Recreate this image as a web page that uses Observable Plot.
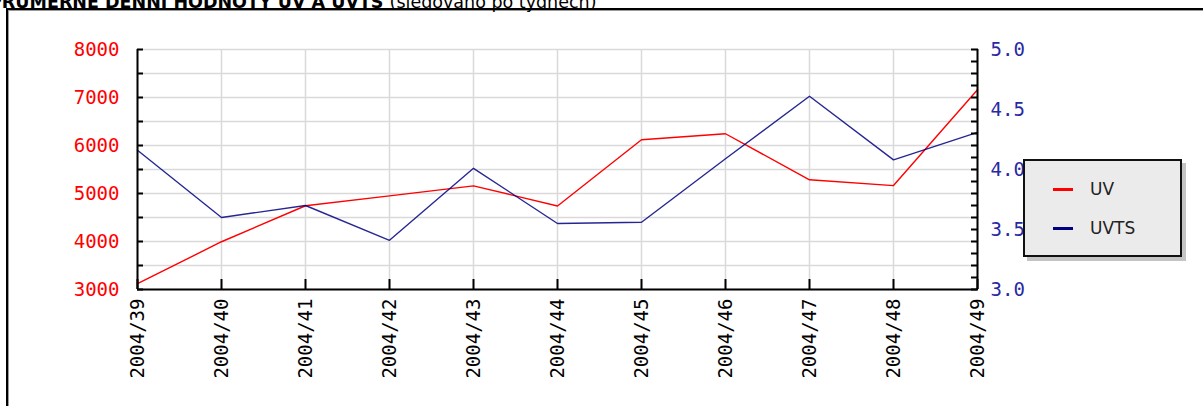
<!DOCTYPE html>
<html><head><meta charset="utf-8">
<script src="https://cdn.jsdelivr.net/npm/d3@7"></script>
<script src="https://cdn.jsdelivr.net/npm/@observablehq/plot@0.6"></script>
<style>
body{margin:0;background:#fff;}
#wrap{position:relative;width:1203px;height:406px;overflow:hidden;background:#fff;}
#frame{position:absolute;left:6px;top:8px;width:1300px;height:500px;border-left:2px solid #000;border-top:2px solid #000;box-shadow:inset 1px 1px 0 #9a9a9a;}
#title{position:absolute;left:-11px;top:-6px;font:bold 17.5px "DejaVu Sans";line-height:17px;white-space:nowrap;color:#000;}
#title span{font-weight:normal;}
#chart{position:absolute;left:0;top:0;}
#legend{position:absolute;left:1023px;top:159px;width:155px;height:94px;background:#ebebeb;border:2px solid #111;box-shadow:4px 4px 0 #c4c4c4;}
.li{position:absolute;left:28px;height:20px;display:flex;align-items:center;font:17px "DejaVu Sans";color:#222;}
.li i{display:inline-block;width:20px;height:3px;margin-right:17px;}
</style></head>
<body><div id="wrap">
<div id="frame"></div>
<div id="title">PRŮMĚRNÉ DENNÍ HODNOTY UV A UVTS <span>(sledováno po týdnech)</span></div>
<div id="chart"></div>
<div id="legend"></div>
</div>
<script>
const weeks = ["2004/39","2004/40","2004/41","2004/42","2004/43","2004/44","2004/45","2004/46","2004/47","2004/48","2004/49"];
const uv = [3120,3995,4745,4950,5160,4740,6120,6245,5285,5165,7160];
const uvts = [4.16,3.60,3.70,3.41,4.01,3.55,3.56,4.09,4.61,4.08,4.31];
const leftTickLabels = [3000,4000,5000,6000,7000,8000];
const leftMinorTicks = [3000,3500,4000,4500,5000,5500,6000,6500,7000,7500,8000];
const rightTickLabels = [3.0,3.5,4.0,4.5,5.0];
const rightMinorTicks = [3.0,3.1,3.2,3.3,3.4,3.5,3.6,3.7,3.8,3.9,4.0,4.1,4.2,4.3,4.4,4.5,4.6,4.7,4.8,4.9,5.0];
const seriesNames = ["UV","UVTS"];
const seriesColors = ["#ff0000","#000080"];

const leftDomain = [3000, 8000];
const rightDomain = [3.0, 5.0];
const toLeft = v => leftDomain[0] + (v - rightDomain[0]) * (leftDomain[1]-leftDomain[0])/(rightDomain[1]-rightDomain[0]);
const fromLeft = v => rightDomain[0] + (v - leftDomain[0]) * (rightDomain[1]-rightDomain[0])/(leftDomain[1]-leftDomain[0]);

const uvData = weeks.map((w,i)=>({week:w, value:uv[i]}));
const uvtsData = weeks.map((w,i)=>({week:w, value:toLeft(uvts[i])}));
const mono = "DejaVu Sans Mono";

const chart = Plot.plot({
  width:1203, height:406,
  marginLeft:137, marginRight:226, marginTop:49, marginBottom:117,
  style:{background:"transparent", overflow:"visible"},
  x:{type:"point", domain:weeks, padding:0},
  y:{domain:leftDomain},
  marks:[
    Plot.gridY(leftMinorTicks, {stroke:"#d9d9d9", strokeOpacity:1, strokeWidth:1.5}),
    Plot.gridX(weeks, {stroke:"#d9d9d9", strokeOpacity:1, strokeWidth:1.5}),
    Plot.line(uvData, {x:"week", y:"value", stroke:seriesColors[0], strokeWidth:1.4}),
    Plot.line(uvtsData, {x:"week", y:"value", stroke:seriesColors[1], strokeWidth:1.4, strokeOpacity:0.85}),
    Plot.ruleY([leftDomain[0]], {stroke:"#000", strokeWidth:2}),
    Plot.ruleX([weeks[0]], {stroke:"#000", strokeWidth:2}),
    Plot.ruleX([weeks[weeks.length-1]], {stroke:"#000", strokeWidth:2}),
    Plot.axisY(leftMinorTicks, {anchor:"left", tickSize:-6, strokeWidth:2, tickFormat:()=>"", label:null}),
    Plot.axisY(leftTickLabels, {anchor:"left", tickSize:0, tickPadding:18, label:null, color:"#ff0000", fontSize:19, fontFamily:mono, tickFormat:d=>String(d)}),
    Plot.axisY(rightMinorTicks.map(toLeft), {anchor:"right", tickSize:-7, strokeWidth:2, tickFormat:()=>"", label:null}),
    Plot.axisY(rightTickLabels.map(toLeft), {anchor:"right", tickSize:0, tickPadding:13, label:null, color:"#2929a3", fontSize:19, fontFamily:mono, tickFormat:d=>d3.format(".1f")(fromLeft(d))}),
    Plot.axisX(weeks, {anchor:"bottom", tickSize:-10, strokeWidth:2, tickFormat:()=>"", label:null}),
    Plot.axisX(weeks, {anchor:"bottom", tickSize:0, tickPadding:9, tickRotate:-90, label:null, color:"#000", fontSize:19, fontFamily:mono})
  ]
});
document.getElementById("chart").appendChild(chart);

const legend = document.getElementById("legend");
seriesNames.forEach((n,i)=>{
  const d = document.createElement("div");
  d.className = "li";
  d.style.top = (18 + i*39) + "px";
  d.innerHTML = `<i style="background:${seriesColors[i]}"></i>${n}`;
  legend.appendChild(d);
});
</script>
</body></html>
